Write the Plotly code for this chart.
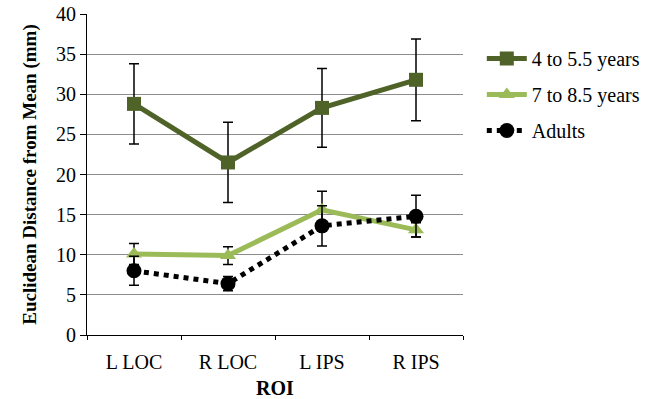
import plotly.graph_objects as go

categories = ["L LOC", "R LOC", "L IPS", "R IPS"]
young = [28.8, 21.5, 28.3, 31.8]
young_err = [5.0, 5.0, 4.9, 5.1]
mid = [10.1, 9.9, 15.6, 13.1]
mid_err = [1.3, 1.1, 2.3, 0.9]
adults = [8.0, 6.4, 13.6, 14.8]
adults_err = [1.8, 0.9, 2.5, 2.6]
series_names = ["4 to 5.5 years", "7 to 8.5 years", "Adults"]

font = "Liberation Serif, Times New Roman, serif"

fig = go.Figure()
fig.add_trace(go.Scatter(
    x=categories, y=young, name=series_names[0], mode="lines+markers",
    legendgroup="a",
    line=dict(color="#4F6228", width=5),
    marker=dict(symbol="square", size=14, color="#4F6228"),
    error_y=dict(type="data", array=young_err, color="black", thickness=1.5, width=5),
))
fig.add_trace(go.Scatter(
    x=categories, y=mid, name=series_names[1], mode="lines+markers",
    legendgroup="b",
    line=dict(color="#9BBB59", width=5),
    marker=dict(symbol="triangle-up", size=14, color="#9BBB59"),
    error_y=dict(type="data", array=mid_err, color="black", thickness=1.5, width=5),
))
fig.add_trace(go.Scatter(
    x=categories, y=adults, name=series_names[2], mode="lines+markers",
    legendgroup="c",
    line=dict(color="black", width=5, dash="dot"),
    marker=dict(symbol="circle", size=15, color="black"),
    error_y=dict(type="data", array=adults_err, color="black", thickness=1.5, width=5),
))

fig.update_layout(
    width=664, height=399,
    margin=dict(l=87, r=201, t=14, b=64),
    paper_bgcolor="white", plot_bgcolor="white",
    font=dict(family=font, size=20, color="black"),
    showlegend=True,
    legend=dict(x=1.05, y=0.922, xanchor="left", yanchor="top",
                font=dict(family=font, size=20, color="black"),
                tracegroupgap=7, itemwidth=40, bgcolor="rgba(0,0,0,0)"),
    xaxis=dict(
        title=dict(text="<b>ROI</b>", font=dict(family=font, size=20), standoff=20),
        automargin=False,
        showline=True, linecolor="black", linewidth=1,
        ticks="outside", tickson="boundaries", ticklen=4, tickcolor="black",
        ticklabelstandoff=9,
        tickfont=dict(family=font, size=20),
        showgrid=False, range=[-0.5, 3.5],
    ),
    yaxis=dict(
        title=dict(text="<b>Euclidean Distance from Mean (mm)</b>",
                   font=dict(family=font, size=19), standoff=14),
        automargin=False,
        range=[0, 40], dtick=5,
        showline=True, linecolor="black", linewidth=1,
        ticks="outside", ticklen=6, tickcolor="black",
        tickfont=dict(family=font, size=20),
        showgrid=True, gridcolor="#8c8c8c", gridwidth=1,
        zeroline=False,
    ),
)

fig.write_html("out.html")
